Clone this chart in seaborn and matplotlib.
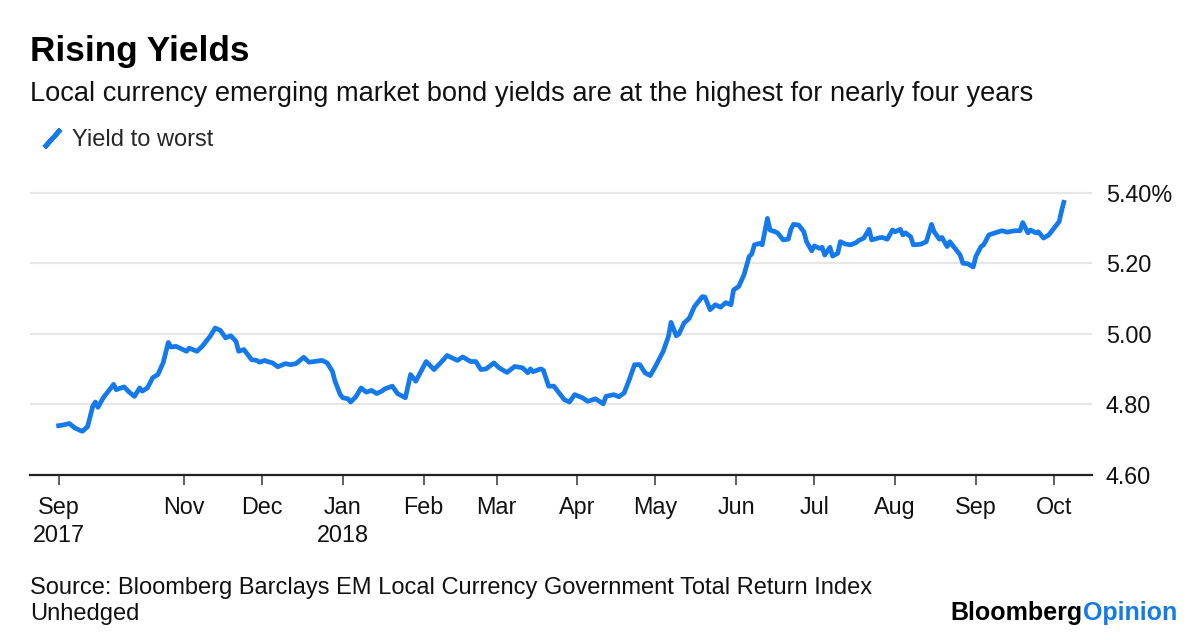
import matplotlib
matplotlib.use("Agg")
import matplotlib.pyplot as plt
from matplotlib.lines import Line2D
import pandas as pd
import seaborn as sns

# ---------------- data ----------------
dates = [
    "2017-09-13", "2017-09-15", "2017-09-18", "2017-09-20", "2017-09-22", "2017-09-23", "2017-09-25",
    "2017-09-27", "2017-09-28", "2017-09-29", "2017-10-01", "2017-10-03", "2017-10-05", "2017-10-06",
    "2017-10-09", "2017-10-11", "2017-10-13", "2017-10-15", "2017-10-16", "2017-10-18", "2017-10-20",
    "2017-10-22", "2017-10-24", "2017-10-26", "2017-10-27", "2017-10-29", "2017-10-31", "2017-11-02",
    "2017-11-03", "2017-11-06", "2017-11-08", "2017-11-11", "2017-11-13", "2017-11-15", "2017-11-17",
    "2017-11-19", "2017-11-21", "2017-11-22", "2017-11-24", "2017-11-27", "2017-11-29", "2017-11-30",
    "2017-12-02", "2017-12-03", "2017-12-05", "2017-12-07", "2017-12-10", "2017-12-12", "2017-12-14",
    "2017-12-17", "2017-12-19", "2017-12-21", "2017-12-24", "2017-12-26", "2017-12-28", "2017-12-29",
    "2017-12-31", "2018-01-01", "2018-01-03", "2018-01-04", "2018-01-06", "2018-01-08", "2018-01-10",
    "2018-01-12", "2018-01-14", "2018-01-16", "2018-01-17", "2018-01-20", "2018-01-22", "2018-01-25",
    "2018-01-26", "2018-01-27", "2018-01-29", "2018-01-31", "2018-02-02", "2018-02-05", "2018-02-08",
    "2018-02-10", "2018-02-14", "2018-02-16", "2018-02-19", "2018-02-21", "2018-02-23", "2018-02-25",
    "2018-02-28", "2018-03-02", "2018-03-05", "2018-03-08", "2018-03-11", "2018-03-13", "2018-03-14",
    "2018-03-15", "2018-03-18", "2018-03-19", "2018-03-21", "2018-03-23", "2018-03-25", "2018-03-27",
    "2018-03-29", "2018-03-31", "2018-04-03", "2018-04-05", "2018-04-08", "2018-04-11", "2018-04-12",
    "2018-04-15", "2018-04-17", "2018-04-19", "2018-04-21", "2018-04-23", "2018-04-25", "2018-04-27",
    "2018-04-29", "2018-05-01", "2018-05-04", "2018-05-06", "2018-05-07", "2018-05-09", "2018-05-10",
    "2018-05-12", "2018-05-14", "2018-05-16", "2018-05-19", "2018-05-20", "2018-05-22", "2018-05-24",
    "2018-05-26", "2018-05-28", "2018-05-30", "2018-05-31", "2018-06-02", "2018-06-04", "2018-06-06",
    "2018-06-07", "2018-06-08", "2018-06-10", "2018-06-11", "2018-06-13", "2018-06-14", "2018-06-16",
    "2018-06-17", "2018-06-19", "2018-06-21", "2018-06-22", "2018-06-23", "2018-06-25", "2018-06-27",
    "2018-06-28", "2018-06-30", "2018-07-01", "2018-07-03", "2018-07-04", "2018-07-05", "2018-07-07",
    "2018-07-08", "2018-07-10", "2018-07-11", "2018-07-13", "2018-07-15", "2018-07-17", "2018-07-18",
    "2018-07-20", "2018-07-22", "2018-07-23", "2018-07-26", "2018-07-27", "2018-07-29", "2018-07-31",
    "2018-08-01", "2018-08-03", "2018-08-04", "2018-08-05", "2018-08-07", "2018-08-08", "2018-08-11",
    "2018-08-13", "2018-08-15", "2018-08-16", "2018-08-18", "2018-08-19", "2018-08-21", "2018-08-22",
    "2018-08-24", "2018-08-26", "2018-08-27", "2018-08-29", "2018-08-31", "2018-09-01", "2018-09-03",
    "2018-09-04", "2018-09-06", "2018-09-08", "2018-09-11", "2018-09-13", "2018-09-16", "2018-09-18",
    "2018-09-19", "2018-09-21", "2018-09-22", "2018-09-24", "2018-09-25", "2018-09-27", "2018-09-29",
    "2018-10-01", "2018-10-03", "2018-10-04", "2018-10-05",
]

yields = [
    4.739, 4.741, 4.746, 4.734, 4.727, 4.724, 4.737,
    4.795, 4.807, 4.792, 4.819, 4.838, 4.857, 4.842,
    4.850, 4.835, 4.823, 4.847, 4.838, 4.847, 4.876,
    4.885, 4.918, 4.976, 4.963, 4.965, 4.958, 4.951,
    4.960, 4.951, 4.965, 4.993, 5.017, 5.010, 4.989,
    4.995, 4.979, 4.951, 4.956, 4.927, 4.925, 4.920,
    4.925, 4.922, 4.918, 4.907, 4.916, 4.913, 4.916,
    4.934, 4.920, 4.922, 4.925, 4.918, 4.894, 4.866,
    4.828, 4.819, 4.816, 4.807, 4.822, 4.847, 4.835,
    4.840, 4.831, 4.838, 4.844, 4.852, 4.831, 4.819,
    4.852, 4.885, 4.866, 4.894, 4.922, 4.899, 4.922,
    4.939, 4.925, 4.935, 4.922, 4.922, 4.899, 4.901,
    4.918, 4.904, 4.891, 4.908, 4.904, 4.890, 4.901,
    4.893, 4.901, 4.897, 4.852, 4.852, 4.833, 4.814,
    4.807, 4.828, 4.819, 4.809, 4.816, 4.802, 4.823,
    4.828, 4.822, 4.833, 4.871, 4.913, 4.913, 4.890,
    4.882, 4.908, 4.951, 4.993, 5.033, 4.995, 5.000,
    5.031, 5.045, 5.078, 5.106, 5.105, 5.069, 5.083,
    5.076, 5.089, 5.083, 5.125, 5.135, 5.168, 5.220,
    5.227, 5.253, 5.257, 5.253, 5.328, 5.295, 5.290,
    5.286, 5.267, 5.269, 5.297, 5.311, 5.309, 5.290,
    5.262, 5.236, 5.250, 5.243, 5.246, 5.224, 5.246,
    5.221, 5.229, 5.262, 5.255, 5.253, 5.259, 5.265,
    5.272, 5.297, 5.267, 5.273, 5.274, 5.269, 5.295,
    5.290, 5.297, 5.281, 5.287, 5.276, 5.253, 5.255,
    5.262, 5.311, 5.290, 5.269, 5.274, 5.248, 5.262,
    5.243, 5.224, 5.201, 5.199, 5.190, 5.220, 5.248,
    5.253, 5.281, 5.286, 5.293, 5.289, 5.293, 5.293,
    5.316, 5.287, 5.295, 5.287, 5.290, 5.272, 5.281,
    5.300, 5.319, 5.352, 5.380,
]

series_name = "Yield to worst"

tick_dates = ["2017-09-14", "2017-11-01", "2017-12-01", "2018-01-01", "2018-02-01",
              "2018-03-01", "2018-04-01", "2018-05-01", "2018-06-01", "2018-07-01",
              "2018-08-01", "2018-09-01", "2018-10-01"]
tick_labels = ["Sep\n2017", "Nov", "Dec", "Jan\n2018", "Feb", "Mar", "Apr",
               "May", "Jun", "Jul", "Aug", "Sep", "Oct"]

y_ticks = [4.60, 4.80, 5.00, 5.20, 5.40]
y_tick_labels = ["4.60", "4.80", "5.00", "5.20", "5.40%"]

title = "Rising Yields"
subtitle = "Local currency emerging market bond yields are at the highest for nearly four years"
source_1 = "Source: Bloomberg Barclays EM Local Currency Government Total Return Index"
source_2 = "Unhedged"

# ---------------- style ----------------
BLUE = "#1479EA"
GRID = "#E6E6E6"
W, H = 1200, 640

sns.set_theme(style="white")
plt.rcParams["font.family"] = ["Liberation Sans", "DejaVu Sans"]

df = pd.DataFrame({"date": pd.to_datetime(dates), "value": yields})

fig = plt.figure(figsize=(W / 100, H / 100), dpi=100)
fig.patch.set_facecolor("white")

ax_left, ax_right = 30, 1092
y_bottom_px = 475
ylo, yhi = 4.60, 5.42
px_per_unit = 70.5 / 0.2
y_top_px = y_bottom_px - (yhi - ylo) * px_per_unit
ax = fig.add_axes([ax_left / W, 1 - y_bottom_px / H,
                   (ax_right - ax_left) / W, (y_bottom_px - y_top_px) / H])
ax.set_facecolor("white")

sns.lineplot(data=df, x="date", y="value", color=BLUE, linewidth=3.4, ax=ax,
             legend=False)
for ln in ax.lines:
    ln.set_solid_joinstyle("round")
    ln.set_solid_capstyle("butt")

# x range
origin = pd.Timestamp("2017-11-01")
ax.set_xlim(origin + pd.Timedelta(days=-59.1), origin + pd.Timedelta(days=348.6))
ax.set_ylim(ylo, yhi)

# spines
for s in ["top", "left", "right"]:
    ax.spines[s].set_visible(False)
ax.spines["bottom"].set_color("#222222")
ax.spines["bottom"].set_linewidth(1.6)
ax.spines["bottom"].set_zorder(5)

# grid
ax.set_yticks(y_ticks)
ax.set_yticklabels(y_tick_labels)
ax.yaxis.tick_right()
ax.grid(axis="y", color=GRID, linewidth=1.6, zorder=0)
ax.grid(axis="x", visible=False)
ax.set_axisbelow(True)
ax.tick_params(axis="y", length=0, pad=10, labelsize=16.8, labelcolor="#111111")

ax.set_xticks(pd.to_datetime(tick_dates))
ax.set_xticklabels(tick_labels, linespacing=1.3)
ax.tick_params(axis="x", direction="out", length=7, width=1.2, color="#444444",
               pad=8, labelsize=16.8, labelcolor="#111111", bottom=True)
ax.set_xlabel("")
ax.set_ylabel("")

# titles
fig.text(30 / W, 1 - 61 / H, title, fontsize=25.3, fontweight="bold",
         color="#000000", ha="left", va="baseline")
fig.text(30 / W, 1 - 101 / H, subtitle, fontsize=19.6, color="#111111",
         ha="left", va="baseline")

# legend
handle = Line2D([], [], color=BLUE, lw=0, marker=(2, 2, -42), markersize=17.5,
                markeredgewidth=3.4, markeredgecolor=BLUE)
fig.legend(handles=[handle], labels=[series_name], loc="center left",
           bbox_to_anchor=(40 / W, 1 - 140 / H), frameon=False,
           fontsize=17, handlelength=1.0, handletextpad=0.35,
           borderpad=0, borderaxespad=0)

# source
fig.text(30 / W, 1 - 594 / H, source_1, fontsize=17, color="#111111",
         ha="left", va="baseline")
fig.text(30 / W, 1 - 620 / H, source_2, fontsize=17, color="#111111",
         ha="left", va="baseline")

# logo
t_op = fig.text(1177 / W, 1 - 620 / H, "Opinion", fontsize=18, fontweight="bold",
                color=BLUE, ha="right", va="baseline",
                family=["Liberation Sans Narrow", "Liberation Sans"])
fig.canvas.draw()
bb = t_op.get_window_extent(renderer=fig.canvas.get_renderer())
fig.text(bb.x0 / W, 1 - 620 / H, "Bloomberg", fontsize=18, fontweight="bold",
         color="#000000", ha="right", va="baseline",
         family=["Liberation Sans Narrow", "Liberation Sans"])

fig.savefig("out.png", dpi=100, facecolor="white")
